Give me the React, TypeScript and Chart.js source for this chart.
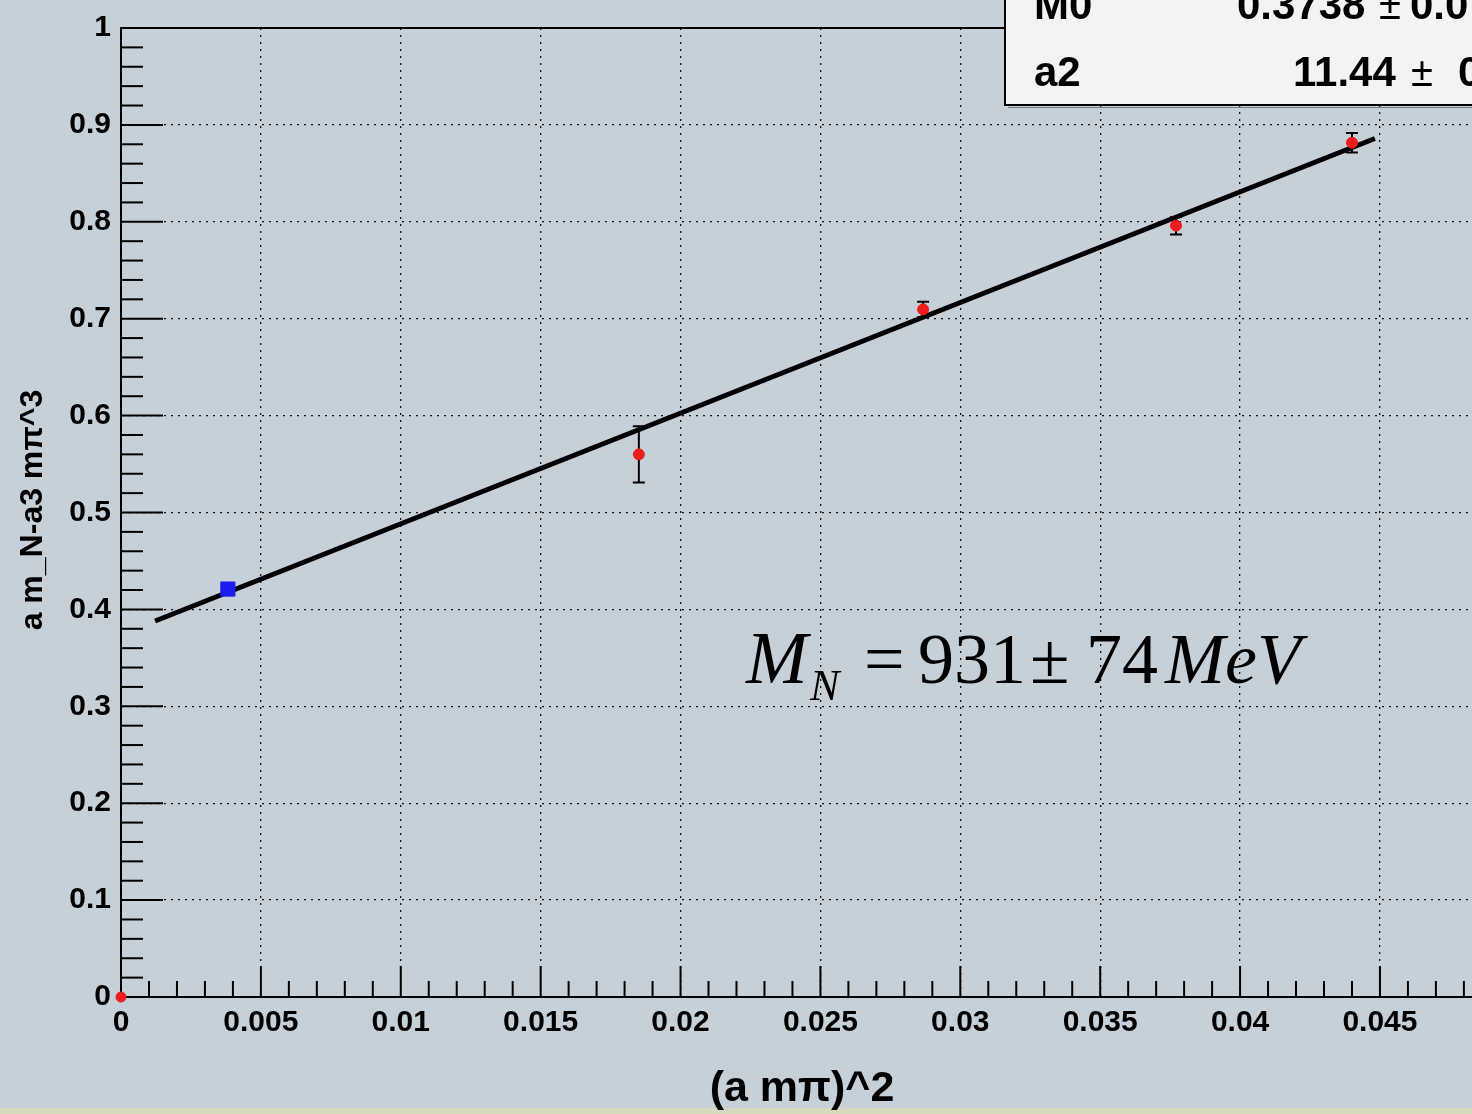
import React, { useEffect, useRef } from "react";
import { Chart, registerables } from "chart.js";

Chart.register(...registerables);

// ---- data ----
const xTickValues = [0, 0.005, 0.01, 0.015, 0.02, 0.025, 0.03, 0.035, 0.04, 0.045];
const xTickLabels = ["0", "0.005", "0.01", "0.015", "0.02", "0.025", "0.03", "0.035", "0.04", "0.045"];
const yTickValues = [0, 0.1, 0.2, 0.3, 0.4, 0.5, 0.6, 0.7, 0.8, 0.9, 1];
const yTickLabels = ["0", "0.1", "0.2", "0.3", "0.4", "0.5", "0.6", "0.7", "0.8", "0.9", "1"];

const originX = [0];
const originY = [0];

const blueX = [0.00382];
const blueY = [0.421];

const redX = [0.01851, 0.02867, 0.03771, 0.044];
const redY = [0.56, 0.7096, 0.796, 0.8816];
const redErr = [0.029, 0.008, 0.009, 0.01];

const fitX = [0.00122, 0.04482];
const fitY = [0.388, 0.886];

const statNames = ["M0", "a2"];
const statValues = ["0.3738", "11.44"];
const statErrors = ["0.0", "0"];

const xTitle = "(a m\u03c0)^2";
const yTitle = "a m_N-a3 m\u03c0^3";

const BG = "rgb(197,208,216)";
const SANS = "'Liberation Sans', Arial, sans-serif";
const SERIF = "'Liberation Serif', 'Times New Roman', serif";

const decorPlugin = {
  id: "decor",
  beforeDraw(chart: any) {
    const ctx = chart.ctx;
    ctx.save();
    ctx.fillStyle = BG;
    ctx.fillRect(0, 0, chart.width, chart.height);
    ctx.fillStyle = "#d5dabd";
    ctx.fillRect(0, 1108, chart.width, chart.height - 1108);
    ctx.restore();
  },
  beforeDatasetsDraw(chart: any) {
    const ctx = chart.ctx;
    const xs = chart.scales.x;
    const ys = chart.scales.y;
    const area = chart.chartArea;
    ctx.save();
    ctx.strokeStyle = "#000";
    ctx.lineWidth = 2;
    // top frame
    ctx.beginPath();
    ctx.moveTo(area.left, area.top);
    ctx.lineTo(area.right, area.top);
    ctx.stroke();
    // y ticks (inside)
    for (let i = 0; i <= 50; i++) {
      const v = i * 0.02;
      const py = ys.getPixelForValue(v);
      const len = i % 5 === 0 ? 42 : 22;
      ctx.beginPath();
      ctx.moveTo(area.left, py);
      ctx.lineTo(area.left + len, py);
      ctx.stroke();
    }
    // x ticks (inside)
    for (let i = 0; i <= 48; i++) {
      const v = i * 0.001;
      const px = xs.getPixelForValue(v);
      if (px > area.right) break;
      const len = i % 5 === 0 ? 31 : 16;
      ctx.beginPath();
      ctx.moveTo(px, area.bottom);
      ctx.lineTo(px, area.bottom - len);
      ctx.stroke();
    }
    // error bars
    ctx.lineWidth = 2;
    for (let i = 0; i < redX.length; i++) {
      const px = xs.getPixelForValue(redX[i]);
      const pTop = ys.getPixelForValue(redY[i] + redErr[i]);
      const pBot = ys.getPixelForValue(redY[i] - redErr[i]);
      ctx.beginPath();
      ctx.moveTo(px, pTop);
      ctx.lineTo(px, pBot);
      ctx.moveTo(px - 6, pTop);
      ctx.lineTo(px + 6, pTop);
      ctx.moveTo(px - 6, pBot);
      ctx.lineTo(px + 6, pBot);
      ctx.stroke();
    }
    ctx.restore();
  },
  afterDraw(chart: any) {
    const ctx = chart.ctx;
    ctx.save();
    // stats box
    ctx.fillStyle = "#f3f3f3";
    ctx.fillRect(1005, -5, 500, 110);
    ctx.strokeStyle = "#000";
    ctx.lineWidth = 2;
    ctx.strokeRect(1005, -5, 500, 110);
    ctx.lineWidth = 1;
    ctx.strokeStyle = "rgba(60,70,80,0.6)";
    ctx.beginPath();
    ctx.moveTo(1008, 107.5);
    ctx.lineTo(1472, 107.5);
    ctx.stroke();
    ctx.fillStyle = "#000";
    ctx.textBaseline = "alphabetic";
    ctx.textAlign = "left";
    const rowY = [19, 86];
    const valX = [1237, 1293];
    const pmX = [1379, 1411];
    const errX = [1410, 1458];
    for (let r = 0; r < statNames.length; r++) {
      ctx.font = `bold 42px ${SANS}`;
      ctx.fillText(statNames[r], 1034, rowY[r]);
      ctx.fillText(statValues[r], valX[r], rowY[r]);
      ctx.font = `40px ${SANS}`;
      ctx.fillText("\u00b1", pmX[r], rowY[r]);
      ctx.font = `bold 42px ${SANS}`;
      ctx.fillText(statErrors[r], errX[r], rowY[r]);
    }

    // annotation
    ctx.fillStyle = "#000";
    ctx.font = `italic 74px ${SERIF}`;
    ctx.fillText("M", 746, 683);
    ctx.font = `italic 44px ${SERIF}`;
    ctx.fillText("N", 810, 700);
    ctx.font = `72px ${SERIF}`;
    ctx.fillText("=", 864, 683);
    ctx.fillText("931", 918, 683);
    ctx.fillText("\u00b1", 1030, 683);
    ctx.fillText("74", 1086, 683);
    ctx.font = `italic 72px ${SERIF}`;
    ctx.fillText("MeV", 1165, 683);

    // axis titles
    ctx.font = `bold 43px ${SANS}`;
    ctx.textAlign = "center";
    ctx.fillText(xTitle, 802, 1101);
    ctx.save();
    ctx.translate(42, 510);
    ctx.rotate(-Math.PI / 2);
    ctx.font = `bold 32px ${SANS}`;
    ctx.fillText(yTitle, 0, 0);
    ctx.restore();
    ctx.restore();
  },
};

export default function App() {
  const ref = useRef<HTMLCanvasElement | null>(null);
  useEffect(() => {
    const canvas = ref.current;
    if (!canvas) return;
    const tickFont = { family: SANS, size: 30, weight: "bold" as const };
    const chart = new Chart(canvas, {
      type: "scatter",
      data: {
        datasets: [
          {
            type: "line",
            data: fitX.map((x, i) => ({ x, y: fitY[i] })),
            borderColor: "#000",
            borderWidth: 5,
            pointRadius: 0,
            showLine: true,
            fill: false,
            order: 3,
          },
          {
            data: originX.map((x, i) => ({ x, y: originY[i] })),
            backgroundColor: "#ee1c1c",
            borderColor: "#ee1c1c",
            pointRadius: 5,
            clip: false as any,
            order: 1,
          },
          {
            data: blueX.map((x, i) => ({ x, y: blueY[i] })),
            pointStyle: "rect",
            backgroundColor: "#1c1cf0",
            borderColor: "#1c1cf0",
            pointRadius: 10,
            order: 1,
          },
          {
            data: redX.map((x, i) => ({ x, y: redY[i] })),
            backgroundColor: "#ee1c1c",
            borderColor: "#ee1c1c",
            pointRadius: 5.5,
            order: 1,
          },
        ] as any,
      },
      options: {
        animation: false,
        responsive: false,
        devicePixelRatio: 1,
        layout: { autoPadding: false, padding: { top: 26, left: 0, right: 0, bottom: 0 } },
        plugins: {
          legend: { display: false },
          tooltip: { enabled: false },
        },
        scales: {
          x: {
            type: "linear",
            min: 0,
            max: 0.04829,
            afterBuildTicks: (s: any) => {
              s.ticks = xTickValues.map((v) => ({ value: v }));
            },
            afterFit: (s: any) => {
              s.height = 117;
              s.paddingLeft = 0;
              s.paddingRight = 0;
            },
            ticks: {
              callback: (_v: any, i: number) => xTickLabels[i],
              font: tickFont,
              color: "#000",
              padding: 8,
              maxRotation: 0,
              autoSkip: false,
            },
            grid: { color: "#111", lineWidth: 1.3, drawTicks: false },
            border: { display: true, color: "#000", width: 2, dash: [2, 5] },
          },
          y: {
            type: "linear",
            min: 0,
            max: 1,
            afterBuildTicks: (s: any) => {
              s.ticks = yTickValues.map((v) => ({ value: v }));
            },
            afterFit: (s: any) => {
              s.width = 121;
            },
            ticks: {
              callback: (_v: any, i: number) => yTickLabels[i],
              font: tickFont,
              color: "#000",
              padding: 10,
              autoSkip: false,
            },
            grid: { color: "#111", lineWidth: 1.3, drawTicks: false },
            border: { display: true, color: "#000", width: 2, dash: [2, 5] },
          },
        },
      } as any,
      plugins: [decorPlugin],
    });
    return () => chart.destroy();
  }, []);

  return (
    <div
      style={{
        position: "absolute",
        left: 0,
        top: 0,
        width: 1472,
        height: 1114,
        overflow: "hidden",
        background: BG,
      }}
    >
      <canvas ref={ref} width={1472} height={1114} style={{ display: "block", width: 1472, height: 1114 }} />
    </div>
  );
}
